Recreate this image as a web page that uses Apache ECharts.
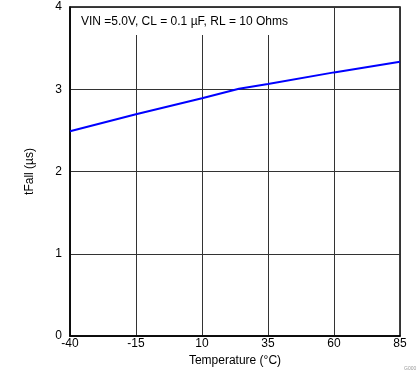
<!DOCTYPE html>
<html>
<head>
<meta charset="utf-8">
<script src="https://cdn.jsdelivr.net/npm/echarts@6/dist/echarts.min.js"></script>
<style>html,body{margin:0;padding:0;background:#fff;}#c{width:419px;height:382px;}</style>
</head>
<body>
<div id="c"></div>
<script>
var temperatures = [-40, -15, 10, 24, 35, 60, 85];
var tFall = [2.49, 2.695, 2.89, 3.005, 3.065, 3.205, 3.335];
var xTicks = [-40, -15, 10, 35, 60, 85];
var yTicks = [0, 1, 2, 3, 4];
var X0 = xTicks[0];

var chart = echarts.init(document.getElementById('c'), null, {renderer: 'canvas'});
var font = 'Liberation Sans, Arial, sans-serif';
chart.setOption({
  animation: false,
  grid: {left: 70, right: 19, top: 7, bottom: 46, show: true, borderColor: '#000', borderWidth: 1.5, backgroundColor: 'transparent'},
  xAxis: {
    type: 'value', min: 0, max: xTicks[xTicks.length-1] - X0, interval: 25,
    name: 'Temperature (°C)', nameLocation: 'middle', nameGap: 14,
    nameTextStyle: {fontFamily: font, fontSize: 12, color: '#000'},
    axisLine: {show: true, lineStyle: {color: '#000', width: 1.5}},
    axisTick: {show: false},
    axisLabel: {fontFamily: font, fontSize: 12, color: '#000', margin: 2,
      formatter: function (v) { return String(v + X0); }},
    splitLine: {show: true, lineStyle: {color: '#333', width: 1}}
  },
  yAxis: {
    type: 'value', min: yTicks[0], max: yTicks[yTicks.length-1], interval: 1,
    name: 'tFall (µs)', nameLocation: 'middle', nameGap: 34,
    nameTextStyle: {fontFamily: font, fontSize: 12, color: '#000'},
    axisLine: {show: true, lineStyle: {color: '#000', width: 1.5}},
    axisTick: {show: false},
    axisLabel: {fontFamily: font, fontSize: 12, color: '#000', margin: 8},
    splitLine: {show: true, lineStyle: {color: '#333', width: 1}}
  },
  graphic: [
    {type: 'rect', z: 50, shape: {x: 71, y: 8, width: 225, height: 27}, style: {fill: '#fff'}},
    {type: 'text', z: 51, left: 81, top: 16, style: {text: 'VIN =5.0V, CL = 0.1 µF, RL = 10 Ohms', fontFamily: font, fontSize: 12, fill: '#000'}},
    {type: 'text', z: 51, left: 404, top: 366, style: {text: 'G000', fontFamily: font, fontSize: 5, fill: '#999'}}
  ],
  series: [{
    type: 'line', symbol: 'none', z: 60,
    lineStyle: {color: '#0000ff', width: 2},
    data: temperatures.map(function (t, i) { return [t - X0, tFall[i]]; })
  }]
});
</script>
</body>
</html>
